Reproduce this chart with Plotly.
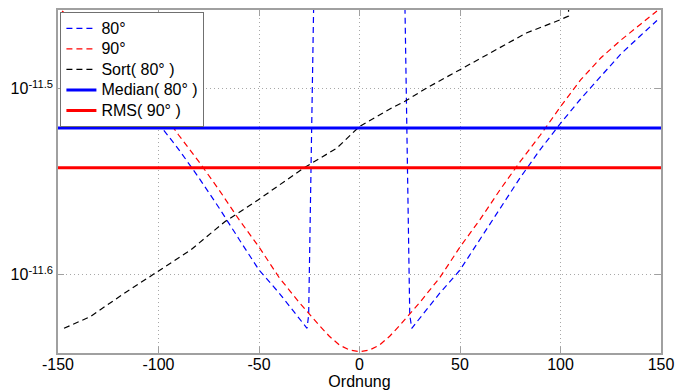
import plotly.graph_objects as go

# ---- data (y values stored as log10 exponents) ----
x_80 = [-148, -140, -130, -120, -110, -100, -90, -80, -70, -60, -50, -40, -30,
        -26.1, -25.3, -22.8, -20, 0, 20, 22.6, 25.0, 26.0,
        30, 40, 50, 60, 70, 80, 90, 100, 110, 120, 130, 140, 148]
e_80 = [-11.46333, -11.47129, -11.48134, -11.49317, -11.50554, -11.51866, -11.53258,
        -11.54774, -11.56387, -11.58081, -11.59747, -11.60984, -11.62344,
        -11.62882, -11.62167, -11.4550, -11.2, -11.2, -11.2, -11.4550, -11.62167, -11.62882,
        -11.62344, -11.60984, -11.59747, -11.58081, -11.56387, -11.54774, -11.53258,
        -11.51866, -11.50554, -11.49317, -11.48134, -11.47129, -11.46333]

x_90 = [-148, -140, -130, -120, -110, -100, -90, -80, -70, -60, -50, -40, -30, -20, -15,
        -10, -5, 0, 5, 10, 15, 20, 30, 40, 50, 60, 70, 80, 90, 100, 110, 120, 130, 140, 148]
e_90 = [-11.4582, -11.4652, -11.4739, -11.4835, -11.4953, -11.5097, -11.5249, -11.5391,
        -11.5542, -11.5703, -11.5851, -11.6015, -11.6149, -11.6273, -11.6331,
        -11.6378, -11.6405, -11.6414, -11.6405, -11.6378, -11.6331, -11.6273,
        -11.6149, -11.6015, -11.5851, -11.5703, -11.5542,
        -11.5391, -11.5249, -11.5097, -11.4953, -11.4835, -11.4739, -11.4652, -11.4582]

x_sort = [-147, -134, -117, -100.5, -84, -67, -50.5, -28, -11.4, 0, 16, 22.6, 33.4,
          50, 66.5, 83, 100, 104, 105, 120, 135, 147]
e_sort = [-11.62882, -11.62258, -11.61000, -11.59839, -11.58672, -11.57151, -11.55984,
          -11.54280, -11.53204, -11.52032, -11.51038, -11.50677, -11.49962, -11.48978,
          -11.47989, -11.47005, -11.46290, -11.46091, -11.2, -11.2, -11.2, -11.2]

x_span = [-150, 150]
e_median = -11.52113
e_rms = -11.54247

names = ["80°", "90°", "Sort( 80° )", "Median( 80° )", "RMS( 90° )"]
x_ticks = [-150, -100, -50, 0, 50, 100, 150]
x_ticktext = ["-150", "-100", "-50", "0", "50", "100", "150"]
y_tick_exp = [-11.6, -11.5]
y_ticktext = ["10<sup>-11.6</sup>", "10<sup>-11.5</sup>"]


def p10(vals):
    return [10 ** v for v in vals]


def big(name):
    # legend text drawn at 16px while the legend rows keep a tighter spacing
    return '<span style="font-size:16px">' + name + '</span>'


FONT = "Liberation Sans, Arial, sans-serif"
DASH = "6px,4px"

fig = go.Figure()
fig.add_trace(go.Scatter(x=x_80, y=p10(e_80), mode="lines", name=big(names[0]),
                         line=dict(color="#0000ff", width=1.2, dash=DASH)))
fig.add_trace(go.Scatter(x=x_90, y=p10(e_90), mode="lines", name=big(names[1]),
                         line=dict(color="#ff0000", width=1.2, dash=DASH)))
fig.add_trace(go.Scatter(x=x_sort, y=p10(e_sort), mode="lines", name=big(names[2]),
                         line=dict(color="#000000", width=1.2, dash=DASH)))
fig.add_trace(go.Scatter(x=x_span, y=p10([e_median, e_median]), mode="lines", name=big(names[3]),
                         line=dict(color="#0000ff", width=3)))
fig.add_trace(go.Scatter(x=x_span, y=p10([e_rms, e_rms]), mode="lines", name=big(names[4]),
                         line=dict(color="#ff0000", width=3)))

axis_common = dict(
    showline=True, linecolor="#a0a0a0", linewidth=1.5, mirror="ticks",
    ticks="inside", ticklen=6, tickcolor="#a0a0a0", tickwidth=1,
    showgrid=True, gridcolor="#a8a8a8", griddash="1px,3px", gridwidth=1,
    zeroline=False, automargin=False,
    tickfont=dict(family=FONT, size=16, color="#000000"),
)

fig.update_layout(
    width=676, height=392,
    margin=dict(l=58, r=15, t=10, b=39),
    paper_bgcolor="white", plot_bgcolor="white",
    font=dict(family=FONT, size=16, color="#000000"),
    xaxis=dict(range=[-150, 150], tickvals=x_ticks, ticktext=x_ticktext,
               ticklabelstandoff=-4,
               title=dict(text="Ordnung", font=dict(family=FONT, size=16), standoff=4),
               **axis_common),
    yaxis=dict(type="log", range=[-11.6421, -11.45769],
               tickvals=p10(y_tick_exp), ticktext=y_ticktext, **axis_common),
    legend=dict(x=0.004, y=0.994, xanchor="left", yanchor="top",
                bgcolor="white", bordercolor="#707070", borderwidth=1,
                font=dict(family=FONT, size=13.5, color="#000000"),
                tracegroupgap=0),
    showlegend=True,
)

fig.write_html("out.html")
